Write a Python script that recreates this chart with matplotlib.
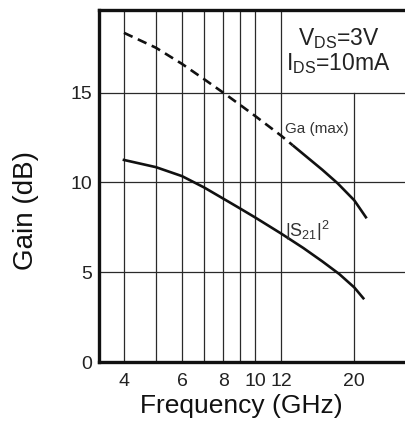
import matplotlib
matplotlib.use("Agg")
import matplotlib.pyplot as plt
import numpy as np

plt.rcParams['font.family'] = ['Liberation Sans', 'DejaVu Sans']
plt.rcParams['mathtext.fontset'] = 'custom'
plt.rcParams['mathtext.rm'] = 'Liberation Sans'
plt.rcParams['mathtext.it'] = 'Liberation Sans'

# Data
ga_freq = [4, 5, 6, 7, 8, 9, 10, 12, 13, 14, 16, 17.8, 20, 21.8]
ga_gain = [18.33, 17.5, 16.6, 15.75, 15.0, 14.32, 13.7, 12.6, 12.07, 11.58, 10.7, 9.95, 9.0, 8.0]
ga_dash_end = 13  # Ga(max) is dashed up to this frequency, solid beyond

s21_freq = [4, 5, 6, 7, 8, 9, 10, 12, 14, 16, 18, 20, 21.3]
s21_gain = [11.25, 10.85, 10.35, 9.72, 9.1, 8.55, 8.05, 7.15, 6.35, 5.6, 4.9, 4.15, 3.55]

x_grid = [4, 5, 6, 7, 8, 9, 10, 12]
x_grid_partial = [20]
y_grid = [5, 10, 15]
x_ticks = [4, 6, 8, 10, 12, 20]
x_ticklabels = ['4', '6', '8', '10', '12', '20']
y_ticks = [0, 5, 10, 15]
y_ticklabels = ['0', '5', '10', '15']

fig = plt.figure(figsize=(4.06, 4.23), dpi=100)
ax = fig.add_axes([99 / 406, 61 / 423, 1 - 99 / 406, 352 / 423])
ax.set_xscale('log')
ax.set_xlim(3.36, 28.7)
ax.set_ylim(0, 19.6)

gc = '#2a2a2a'
for xv in x_grid:
    ax.axvline(xv, color=gc, lw=0.9, zorder=1)
for xv in x_grid_partial:
    ax.axvline(xv, ymin=0, ymax=15 / 19.6, color=gc, lw=0.9, zorder=1)
for yv in y_grid:
    ax.axhline(yv, color=gc, lw=0.9, zorder=1)

gf = np.array(ga_freq, dtype=float)
gg = np.array(ga_gain, dtype=float)
m1 = gf <= ga_dash_end
m2 = gf >= ga_dash_end
ax.plot(gf[m1], gg[m1], color='#111111', lw=1.9, ls=(0, (3.6, 2.2)), zorder=3)
ax.plot(gf[m2], gg[m2], color='#111111', lw=1.9, zorder=3, solid_capstyle='butt')
ax.plot(s21_freq, s21_gain, color='#111111', lw=1.9, zorder=3)

ax.text(12.3, 12.95, 'Ga (max)', fontsize=11, color='#333333', ha='left', va='center')
ax.text(12.3, 7.3, r'$\mathregular{|S_{21}|^2}$', fontsize=13, color='#333333',
        ha='left', va='center')
ax.text(17.9, 18.0, r'$\mathregular{V_{DS}}$=3V', fontsize=16.5, color='#222222',
        ha='center', va='center')
ax.text(17.9, 16.6, r'$\mathregular{I_{DS}}$=10mA', fontsize=16.5, color='#222222',
        ha='center', va='center')

ax.set_xticks(x_ticks)
ax.set_xticklabels(x_ticklabels)
ax.xaxis.set_minor_locator(matplotlib.ticker.NullLocator())
ax.set_yticks(y_ticks)
ax.set_yticklabels(y_ticklabels)
ax.tick_params(axis='both', length=0, labelsize=14, colors='#222222')
ax.tick_params(axis='x', pad=8)
ax.tick_params(axis='y', pad=5)

for s in ['left', 'bottom', 'top']:
    ax.spines[s].set_linewidth(2.4)
    ax.spines[s].set_color('#111111')
ax.spines['right'].set_visible(False)

ax.set_xlabel('Frequency (GHz)', fontsize=19, color='#111111')
ax.set_ylabel('Gain (dB)', fontsize=20, color='#111111')
ax.xaxis.set_label_coords(0.462, -0.09)
ax.yaxis.set_label_coords(-0.195, 0.43)

fig.savefig('out.png', dpi=100)
